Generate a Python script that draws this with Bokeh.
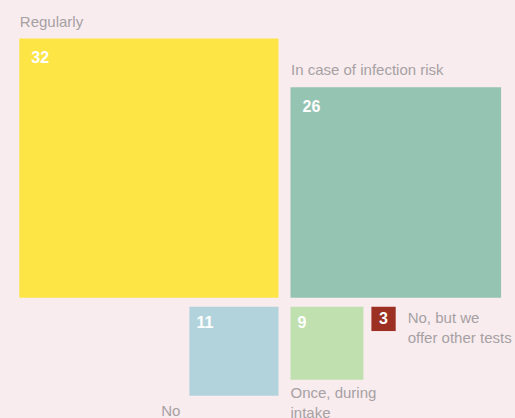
from bokeh.plotting import figure
from bokeh.models import Range1d, ColumnDataSource
from bokeh.embed import file_html
from bokeh.resources import INLINE
from bokeh.core.properties import value

# ---- data ----
categories = ["Regularly", "In case of infection risk", "No",
              "Once, during intake", "No, but we offer other tests"]
label_lines = [["Regularly"], ["In case of infection risk"], ["No"],
               ["Once, during", "intake"], ["No, but we", "offer other tests"]]
counts = [32, 26, 11, 9, 3]
colors = ["#fde545", "#95c4b3", "#b2d3dc", "#c1e0af", "#9b3023"]

# ---- layout ----
W, H = 515, 418
K = 8.1            # pixels per unit (side of square = count)
px = 1.0 / K
BG = "#f9ecef"
FONT = "Liberation Sans"
LABEL_COLOR = "#a6a1a3"
DY = -6 * px       # baseline correction

p = figure(width=W, height=H, x_range=Range1d(0, W * px), y_range=Range1d(H * px, 0),
           output_backend="svg", toolbar_location=None, min_border=0,
           x_axis_location=None, y_axis_location=None,
           background_fill_color=BG, border_fill_color=BG, outline_line_color=None)
p.grid.visible = False

cx, cy = 284 * px, 301.75 * px
gx, gy = 12 * px, 9 * px
v = counts
lefts = [cx - gx / 2 - v[0], cx + gx / 2, cx - gx / 2 - v[2], cx + gx / 2, 0]
tops = [cy - gy / 2 - v[0], cy - gy / 2 - v[1], cy + gy / 2, cy + gy / 2, cy + gy / 2]
lefts[4] = lefts[3] + v[3] + 8 * px
rights = [l + c for l, c in zip(lefts, counts)]
bottoms = [t + c for t, c in zip(tops, counts)]

src = ColumnDataSource(dict(left=lefts, right=rights, top=tops, bottom=bottoms,
                            color=colors, cat=categories))
p.quad(left="left", right="right", top="top", bottom="bottom", source=src,
       fill_color="color", line_color=None)

# value numbers inside squares
vx, vy, vt, va = [], [], [], []
for l, t, c in zip(lefts, tops, counts):
    if c < 5:
        vx.append(l + c / 2); vy.append(t + c / 2 + 5.5 * px + DY); va.append("center")
    elif c >= 20:
        vx.append(l + 12 * px); vy.append(t + 24.5 * px + DY); va.append("left")
    else:
        vx.append(l + 7 * px); vy.append(t + 21.5 * px + DY); va.append("left")
    vt.append(str(c))
p.text(x=vx, y=vy, text=vt, text_align=va, text_baseline="alphabetic",
       text_color="white", text_font=value(FONT), text_font_style="bold",
       text_font_size="16px")

# category labels
lx, ly, lt, la = [], [], [], []
LH = 20 * px
for i, lines in enumerate(label_lines):
    if i in (0, 1):
        x0, y0, al = lefts[i] + 0.5 * px, tops[i] - 11.5 * px, "left"
    elif i == 2:
        x0, y0, al = lefts[i] - 9 * px, bottoms[i] + 21 * px, "right"
    elif i == 3:
        x0, y0, al = lefts[i], bottoms[i] + 18.5 * px, "left"
    else:
        x0, y0, al = rights[i] + 12 * px, tops[i] + 16.5 * px, "left"
    for j, s in enumerate(lines):
        lx.append(x0); ly.append(y0 + j * LH + DY); lt.append(s); la.append(al)
p.text(x=lx, y=ly, text=lt, text_align=la, text_baseline="alphabetic",
       text_color=LABEL_COLOR, text_font=value(FONT), text_font_size="15px")

html = file_html(p, INLINE)
html = html.replace("</head>",
                    "<style>html,body{background:%s;overflow:hidden;margin:0}</style></head>" % BG, 1)
open("out.html", "w").write(html)
